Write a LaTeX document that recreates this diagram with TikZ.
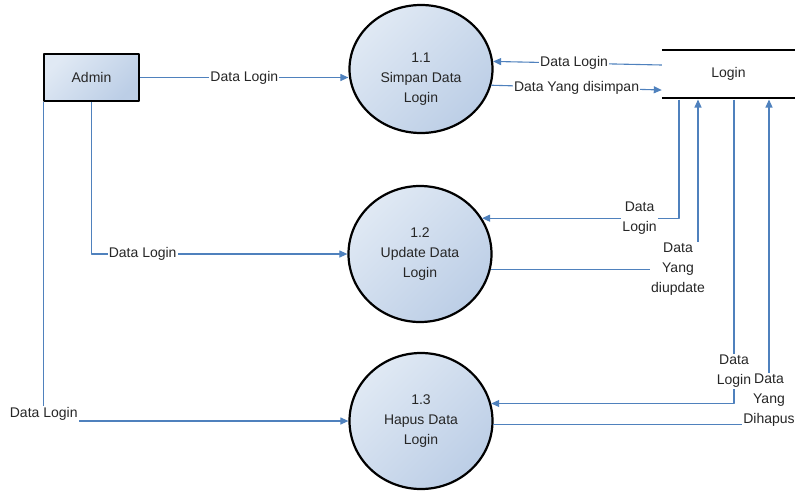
\documentclass[tikz,border=0pt]{standalone}
\usepackage{fontspec}
\setmainfont{Liberation Sans}
\usetikzlibrary{arrows.meta,shapes.geometric}
\definecolor{alirbiru}{RGB}{79,129,189}
\definecolor{isiA}{RGB}{224,233,244}
\definecolor{isiB}{RGB}{188,206,230}
\begin{document}
\begin{tikzpicture}[x=1pt, y=-1pt, font=\fontsize{14}{20}\selectfont, line join=round, >={Triangle[length=8pt,width=7pt]},
	proses/.style={ellipse, draw, line width=2.2pt, minimum width=143pt, minimum height=136pt, inner sep=0pt, align=center, text=black!85, top color=isiA, bottom color=isiB, shading angle=45},
	entitas/.style={rectangle, draw, line width=2.5pt, minimum width=95pt, minimum height=47pt, text=black!85, top color=isiA, bottom color=isiB, shading angle=45},
	alir/.style={alirbiru, line width=1.1pt},
	ket/.style={fill=white, inner sep=1pt, align=center, text=black!85}]
	\useasboundingbox (0,0) rectangle (795,491);
	% entitas, proses, data store
	\node[entitas] (admin) at (91.5,77.5) {Admin};
	\node[proses, minimum height=128pt, label={[align=center, text=black!85, yshift=-10pt]center:1.1\\Simpan Data\\Login}] (p11) at (421,69) {};
	\node[proses] (p12) at (420,254) {1.2\\Update Data\\Login};
	\node[proses] (p13) at (421,421) {1.3\\Hapus Data\\Login};
	\node[minimum width=133pt, minimum height=48pt, text=black!85] (login) at (728.5,74) {Login};
	\draw[line width=2.5pt] (login.north west)--(login.north east) (login.south west)--(login.south east);
	\coordinate (s1) at (679,99.5);
	\coordinate (s2) at (698,99.5);
	\coordinate (s3) at (734,99.5);
	\coordinate (s4) at (769,99.5);
	% aliran data
	\draw[alir,->] (admin.east) -- (admin.east -| p11.west) node[ket,pos=.5]{Data Login};
	\draw[alir,->] ([yshift=9pt]login.west) -- (p11.6) node[ket,pos=.52]{Data Login};
	\draw[alir,->] (p11.-13) -- ([yshift=-16pt]login.west) node[ket,pos=.5]{Data Yang disimpan};
	\draw[alir,->] (admin.south) |- (p12.west) node[ket,pos=.6]{Data Login};
	\draw[alir,->] (s1) |- (p12.30) node[ket,pos=.6]{Data\\Login};
	\draw[alir,->] (p12.-12) -| (s2) node[ket,pos=.5,xshift=-20pt]{Data\\Yang\\diupdate};
	\draw[alir,->] ([xshift=1pt]admin.south west) |- (p13.west) node[ket,pos=.5,yshift=7pt]{Data Login};
	\draw[alir,->] (p13.-3) -| (s4) node[ket,pos=.5,yshift=25pt]{Data\\Yang\\Dihapus};
	\draw[alir,->] (s3) |- (p13.14) node[ket,pos=.447]{Data\\Login};
\end{tikzpicture}
\end{document}
